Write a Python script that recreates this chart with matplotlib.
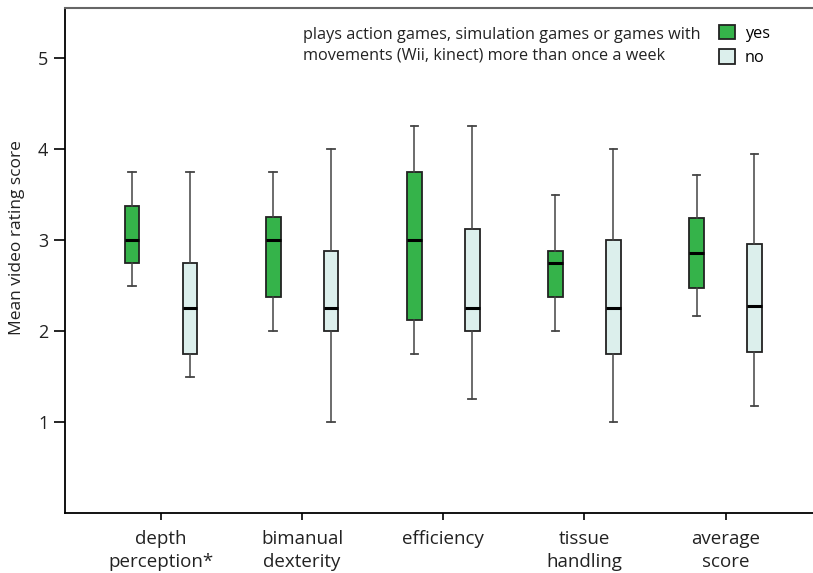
import numpy as np
import matplotlib.pyplot as plt
from matplotlib.patches import Patch

plt.rcParams['font.family'] = ['Open Sans', 'DejaVu Sans']

### Box statistics per category: whisker low, q1, median, q3, whisker high
categories = ['depth\nperception*', 'bimanual\ndexterity', 'efficiency',
              'tissue\nhandling', 'average\nscore']
yes_low = [2.5, 2.0, 1.75, 2.0, 2.16]
yes_q1 = [2.75, 2.375, 2.125, 2.375, 2.47]
yes_med = [3.0, 3.0, 3.0, 2.75, 2.86]
yes_q3 = [3.375, 3.25, 3.75, 2.875, 3.24]
yes_high = [3.75, 3.75, 4.25, 3.5, 3.72]

no_low = [1.5, 1.0, 1.25, 1.0, 1.18]
no_q1 = [1.75, 2.0, 2.0, 1.75, 1.77]
no_med = [2.25, 2.25, 2.25, 2.25, 2.27]
no_q3 = [2.75, 2.875, 3.125, 3.0, 2.96]
no_high = [3.75, 4.0, 4.25, 4.0, 3.95]

green = '#35b34a'
pale = '#dcefec'

def make_stats(low, q1, med, q3, high):
    return [dict(whislo=a, q1=b, med=c, q3=d, whishi=e, fliers=[])
            for a, b, c, d, e in zip(low, q1, med, q3, high)]

fig = plt.figure(figsize=(8.13, 5.73), dpi=100)
ax = fig.add_axes([0.080, 0.1047, 0.920, 0.8813])

pos = np.arange(1, len(categories) + 1)
off = 0.205
w = 0.105

for stats, shift, col in [(make_stats(yes_low, yes_q1, yes_med, yes_q3, yes_high), -off, green),
                          (make_stats(no_low, no_q1, no_med, no_q3, no_high), off, pale)]:
    ax.bxp(stats, positions=pos + shift, widths=w, capwidths=w * 0.5,
           patch_artist=True, showfliers=False, manage_ticks=False,
           boxprops=dict(facecolor=col, edgecolor='#222222', linewidth=1.3),
           medianprops=dict(color='black', linewidth=2.2),
           whiskerprops=dict(color='#444444', linewidth=1.1),
           capprops=dict(color='#444444', linewidth=1.3))

ax.set_xlim(0.32, 5.62)
ax.set_ylim(0, 5.55)
ax.set_xticks(pos)
ax.set_xticklabels(categories, fontsize=13.5, color='#222222', linespacing=1.4)
ax.set_yticks([1, 2, 3, 4, 5])
ax.set_yticklabels(['1', '2', '3', '4', '5'], fontsize=13, color='#222222')
ax.tick_params(axis='y', length=8, width=1.2, pad=4)
ax.tick_params(axis='x', length=5, width=1.2, pad=7)
ax.set_ylabel('Mean video rating score', fontsize=12.5, color='#222222')
ax.yaxis.set_label_coords(-0.0535, 0.545)

ax.spines['right'].set_visible(False)
ax.spines['top'].set_color('#666666')
ax.spines['top'].set_linewidth(1.5)
ax.spines['left'].set_linewidth(1.3)
ax.spines['bottom'].set_linewidth(1.3)

### Legend text and boxes
ax.text(0.318, 0.926,
        'plays action games, simulation games or games with\n'
        'movements (Wii, kinect) more than once a week',
        transform=ax.transAxes, fontsize=11.7, color='#222222',
        va='center', ha='left', linespacing=1.4)
handles = [Patch(facecolor=green, edgecolor='#222222', linewidth=1.3, label='yes'),
           Patch(facecolor=pale, edgecolor='#222222', linewidth=1.3, label='no')]
ax.legend(handles=handles, loc='center left', bbox_to_anchor=(0.865, 0.926),
          frameon=False, fontsize=11.7, handlelength=1.0, handleheight=1.0,
          handletextpad=0.6, labelspacing=0.45, borderaxespad=0)

plt.savefig('out.png', dpi=100)
